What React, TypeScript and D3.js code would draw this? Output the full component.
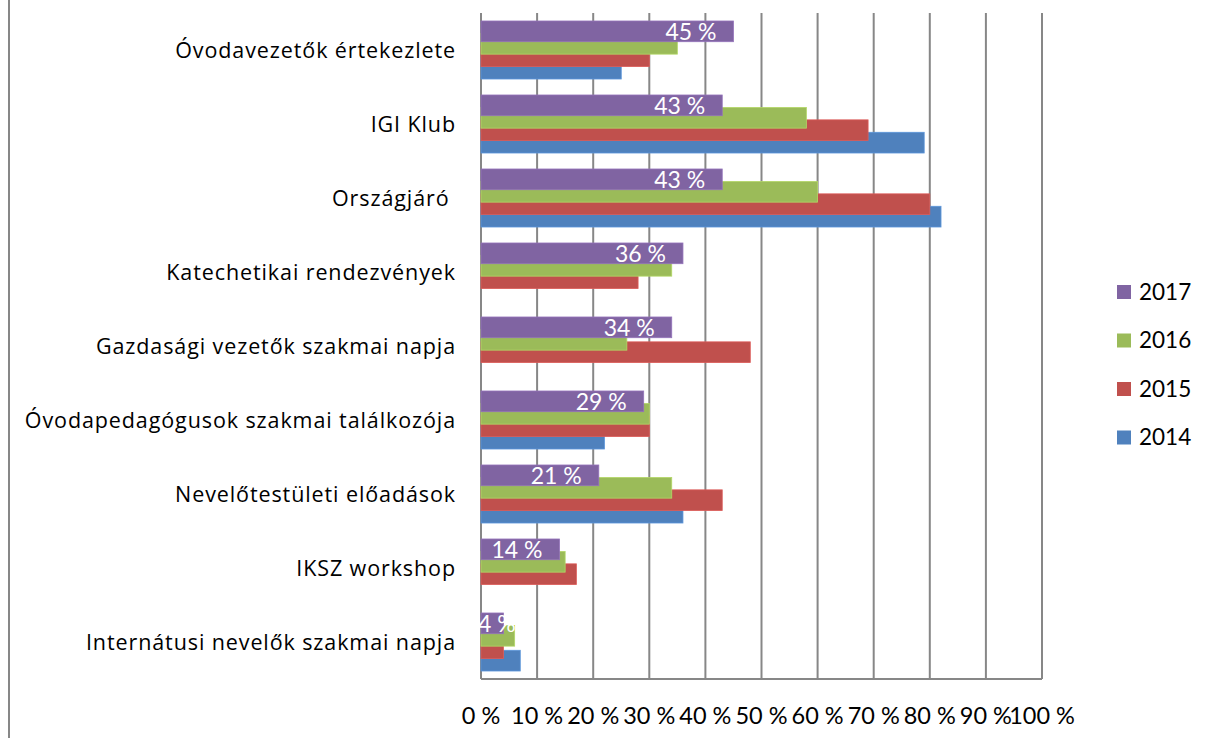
import React, { useEffect, useRef } from "react";
import * as d3 from "d3";

const categories = [
  "Óvodavezetők értekezlete",
  "IGI Klub",
  "Országjáró ",
  "Katechetikai rendezvények",
  "Gazdasági vezetők szakmai napja",
  "Óvodapedagógusok szakmai találkozója",
  "Nevelőtestületi előadások",
  "IKSZ workshop",
  "Internátusi nevelők szakmai napja",
];
const seriesNames = ["2017", "2016", "2015", "2014"];
const values2017 = [45, 43, 43, 36, 34, 29, 21, 14, 4];
const values2016 = [35, 58, 60, 34, 26, 30, 34, 15, 6];
const values2015 = [30, 69, 80, 28, 48, 30, 43, 17, 4];
const values2014 = [25, 79, 82, 0, 0, 22, 36, 0, 7];
const seriesColors = ["#8064A2", "#9BBB59", "#C0504D", "#4F81BD"];
const xTicks = [0, 10, 20, 30, 40, 50, 60, 70, 80, 90, 100];

const W = 1205;
const H = 738;
const FONT = "Lato, 'Noto Sans', sans-serif";
const CAT_FONT = "'Open Sans', Lato, sans-serif";

export default function App() {
  const ref = useRef<SVGSVGElement | null>(null);

  useEffect(() => {
    const svg = d3.select(ref.current);
    svg.selectAll("*").remove();

    const plotLeft = 481;
    const plotRight = 1042;
    const plotTop = 13;
    const plotBottom = 679;

    const x = d3.scaleLinear().domain([0, 100]).range([plotLeft, plotRight]);
    const y = d3.scaleBand<string>().domain(categories).range([plotTop, plotBottom]);
    const band = y.bandwidth();
    const groupH = band * 0.784;
    const barH = band * 0.28;
    const step = (groupH - barH) / 3;

    const allSeries = [values2017, values2016, values2015, values2014];

    // chart border (left edge visible)
    svg.append("line")
      .attr("x1", 9).attr("x2", 9).attr("y1", 0).attr("y2", H)
      .attr("stroke", "#878787").attr("stroke-width", 2);

    // gridlines
    svg.append("g").selectAll("line").data(xTicks).join("line")
      .attr("x1", (d) => x(d)).attr("x2", (d) => x(d))
      .attr("y1", plotTop).attr("y2", plotBottom)
      .attr("stroke", "#878787").attr("stroke-width", 2);
    svg.append("line")
      .attr("x1", plotLeft).attr("x2", plotRight)
      .attr("y1", plotBottom).attr("y2", plotBottom)
      .attr("stroke", "#878787").attr("stroke-width", 2);

    // bars: draw blue first, purple last
    const barsG = svg.append("g");
    for (let s = 3; s >= 0; s--) {
      const vals = allSeries[s];
      barsG.append("g").selectAll("rect").data(categories).join("rect")
        .attr("x", x(0))
        .attr("y", (c) => (y(c) as number) + (band - groupH) / 2 + s * step)
        .attr("width", (c, i) => x(vals[i]) - x(0))
        .attr("height", (c, i) => (vals[i] > 0 ? barH : 0))
        .attr("fill", seriesColors[s])
        .attr("stroke", d3.color(seriesColors[s])!.brighter(0.4).toString())
        .attr("stroke-width", 0.8);
    }

    // data labels for 2017
    const lblG = svg.append("g");
    categories.forEach((c, i) => {
      const v = values2017[i];
      const t = lblG.append("text")
        .attr("font-family", FONT)
        .attr("font-size", 23)
        .attr("fill", "#ffffff")
        .attr("y", (y(c) as number) + (band - groupH) / 2 + 19)
        .text(`${v} %`);
      const w = (t.node() as SVGTextElement).getComputedTextLength();
      t.attr("x", Math.max(x(0) - 3, x(v) - 17 - w));
    });

    // category labels
    svg.append("g").selectAll("text").data(categories).join("text")
      .attr("x", 456)
      .attr("y", (c) => (y(c) as number) + band / 2)
      .attr("dy", "0.35em")
      .attr("text-anchor", "end")
      .attr("font-family", CAT_FONT)
      .attr("font-size", 21.5)
      .attr("letter-spacing", 0.9)
      .attr("fill", "#000")
      .attr("xml:space", "preserve")
      .text((d) => d);

    // x tick labels
    svg.append("g").selectAll("text").data(xTicks).join("text")
      .attr("x", (d) => x(d))
      .attr("y", 716)
      .attr("dy", "0.35em")
      .attr("text-anchor", "middle")
      .attr("font-family", FONT)
      .attr("font-size", 23.5)
      .attr("fill", "#000")
      .text((d) => `${d} %`);

    // legend
    const legG = svg.append("g");
    seriesNames.forEach((name, i) => {
      const cy = 292 + i * 48.5;
      legG.append("rect")
        .attr("x", 1117).attr("y", cy - 7).attr("width", 14).attr("height", 14)
        .attr("fill", seriesColors[i]);
      legG.append("text")
        .attr("x", 1139).attr("y", cy).attr("dy", "0.35em")
        .attr("font-family", FONT).attr("font-size", 22.5).attr("fill", "#000")
        .text(name);
    });
  }, []);

  return (
    <svg
      ref={ref}
      width={W}
      height={H}
      style={{ position: "absolute", left: 0, top: 0, background: "#fff" }}
    />
  );
}
